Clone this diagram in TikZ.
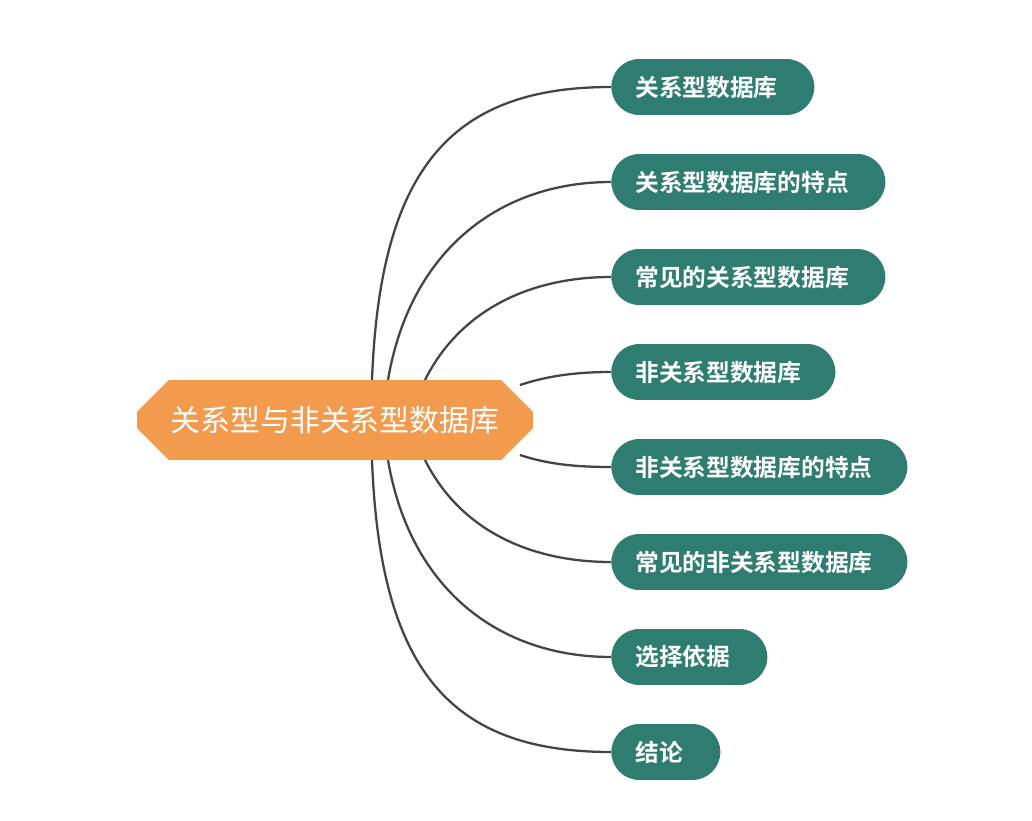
\documentclass[tikz,border=0pt]{standalone}
\usepackage{fontspec}
\newfontfamily\cjk{Noto Sans CJK SC}
\newfontfamily\cjkb{Noto Sans CJK SC Bold}
\usetikzlibrary{shapes.misc}
\definecolor{teal1}{HTML}{2E7D70}
\definecolor{orng}{HTML}{F29B4F}
\definecolor{lnk}{HTML}{444444}
\tikzset{
 center/.style={chamfered rectangle,chamfered rectangle xsep=0.36cm,chamfered rectangle ysep=0.36cm,fill=orng,text=white,minimum width=7.92cm,minimum height=1.6cm,inner sep=0pt,font=\cjk\fontsize{17}{20}\selectfont},
 child/.style={fill=teal1,text=white,rounded corners=0.56cm,minimum height=1.12cm,inner xsep=0.48cm,inner ysep=0pt,anchor=west,align=left,text width=#1,font=\cjkb\fontsize{13.5}{16}\selectfont},
 link/.style={draw=lnk,line width=1.3pt}
}
\begin{document}
\begin{tikzpicture}[x=0.02cm,y=-0.02cm]
\useasboundingbox (0,0) rectangle (1032,821);
\node[center] (c) at (335,420) {关系型与非关系型数据库};
\node[child={203*0.02cm-0.96cm}] (n1) at (611,87) {关系型数据库};
\node[child={274*0.02cm-0.96cm}] (n2) at (611,182) {关系型数据库的特点};
\node[child={274*0.02cm-0.96cm}] (n3) at (611,277) {常见的关系型数据库};
\node[child={224*0.02cm-0.96cm}] (n4) at (611,372) {非关系型数据库};
\node[child={296*0.02cm-0.96cm}] (n5) at (611,467) {非关系型数据库的特点};
\node[child={296*0.02cm-0.96cm}] (n6) at (611,562) {常见的非关系型数据库};
\node[child={156*0.02cm-0.96cm}] (n7) at (611,657) {选择依据};
\node[child={109*0.02cm-0.96cm}] (n8) at (611,752) {结论};
\coordinate (s1) at (372,380);
\coordinate (s2) at (388,380);
\coordinate (s3) at (425,380);
\coordinate (s4) at (520,385);
\coordinate (s5) at (520,455);
\coordinate (s6) at (425,460);
\coordinate (s7) at (388,460);
\coordinate (s8) at (372,460);
\draw[link] (s1) .. controls (380,170) and (450,87) .. (n1.west);
\draw[link] (s2) .. controls (410,250) and (500,182) .. (n2.west);
\draw[link] (s3) .. controls (460,310) and (530,277) .. (n3.west);
\draw[link] (s4) .. controls (550,375) and (580,372) .. (n4.west);
\draw[link] (s5) .. controls (550,465) and (580,467) .. (n5.west);
\draw[link] (s6) .. controls (460,530) and (530,562) .. (n6.west);
\draw[link] (s7) .. controls (410,590) and (500,657) .. (n7.west);
\draw[link] (s8) .. controls (380,670) and (450,752) .. (n8.west);
\end{tikzpicture}
\end{document}
